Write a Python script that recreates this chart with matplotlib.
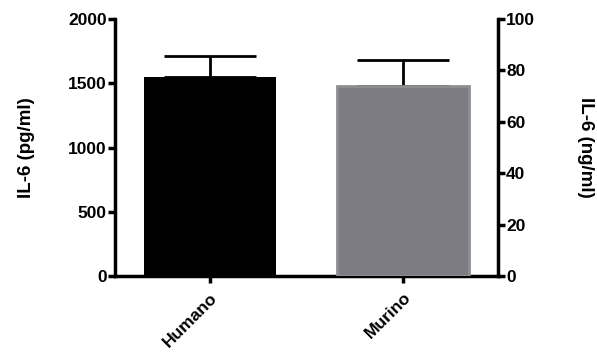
import matplotlib.pyplot as plt

plt.rcParams['font.family'] = ['Liberation Sans', 'DejaVu Sans']
plt.rcParams['font.weight'] = 'bold'

groups = ['Humano', 'Murino']
humano_pg = [1551]
humano_err = [163]
murino_ng = [74.0]
murino_err = [10.0]

fig = plt.figure(figsize=(5.97, 3.56), dpi=100)
ax = fig.add_axes([0.1926, 0.2247, 0.6414, 0.7219])
ax2 = ax.twinx()

width = 0.685

# human data on the left (pg/ml) axis
ax.bar([0], humano_pg, width=width, color='black', zorder=2)
ax.errorbar([0], humano_pg, yerr=[[0], humano_err], fmt='none',
            ecolor='black', elinewidth=2, capsize=33, capthick=2, zorder=1)

# murine data on the right (ng/ml) axis
ax2.bar([1], murino_ng, width=width, color='#7d7c82', edgecolor='#8f8e93',
        linewidth=2, zorder=2)
ax2.errorbar([1], murino_ng, yerr=[[0], murino_err], fmt='none',
             ecolor='black', elinewidth=2, capsize=33, capthick=2, zorder=1)

ax.set_xlim(-0.49, 1.49)
ax.set_ylim(0, 2000)
ax2.set_ylim(0, 100)
ax.set_yticks([0, 500, 1000, 1500, 2000])
ax2.set_yticks([0, 20, 40, 60, 80, 100])
ax.set_xticks([0, 1])
ax.set_xticklabels(groups, rotation=45, ha='right', rotation_mode='anchor',
                   fontsize=13, fontweight='bold')

for a in (ax, ax2):
    a.spines['top'].set_visible(False)
    for s in a.spines.values():
        s.set_linewidth(2.5)
    a.tick_params(width=2.5, length=5, labelsize=12.5, pad=1)
ax.tick_params(axis='x', pad=5)
ax2.spines['left'].set_visible(False)
ax2.spines['bottom'].set_visible(False)
ax.spines['right'].set_visible(False)

for lbl in ax.get_yticklabels() + ax2.get_yticklabels():
    lbl.set_fontweight('bold')

ax.set_ylabel('IL-6 (pg/ml)', fontsize=13.5, fontweight='bold', labelpad=24)
ax2.set_ylabel('IL-6 (ng/ml)', fontsize=13.5, fontweight='bold',
               rotation=270, labelpad=42)

fig.savefig('out.png', dpi=100)
